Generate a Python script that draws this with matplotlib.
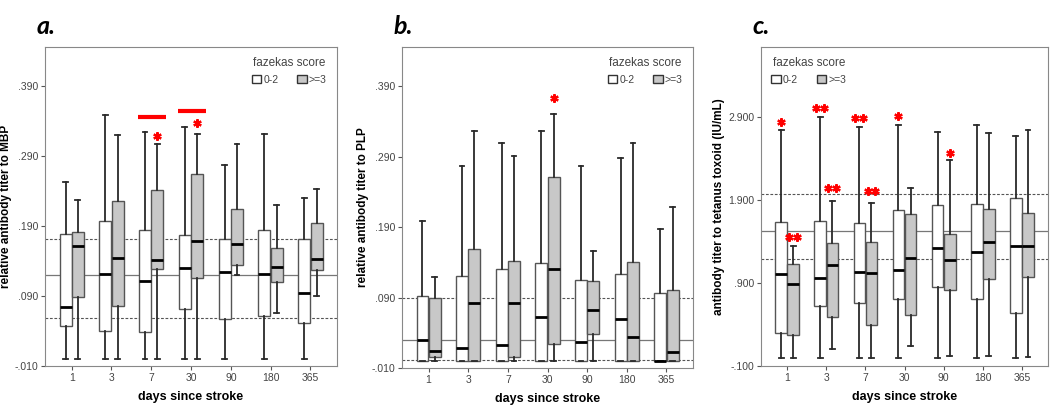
import matplotlib
matplotlib.use("Agg")
import matplotlib.pyplot as plt
import matplotlib.ticker as ticker
from matplotlib.patches import Patch
import numpy as np

# --- Data ---
days = ["1", "3", "7", "30", "90", "180", "365"]

# each list: whisker low, q1, median, q3, whisker high  (one entry per day)
# panel a: MBP
a_low_lo  = [0.0, 0.0, 0.0, 0.0, 0.0, 0.0, 0.0]
a_low_q1  = [0.047, 0.040, 0.039, 0.071, 0.057, 0.061, 0.051]
a_low_med = [0.074, 0.122, 0.112, 0.130, 0.124, 0.121, 0.094]
a_low_q3  = [0.178, 0.197, 0.185, 0.177, 0.171, 0.185, 0.171]
a_low_hi  = [0.253, 0.349, 0.324, 0.332, 0.277, 0.322, 0.230]
a_high_lo  = [0.0, 0.0, 0.0, 0.0, 0.120, 0.066, 0.090]
a_high_q1  = [0.088, 0.076, 0.129, 0.116, 0.134, 0.110, 0.127]
a_high_med = [0.161, 0.144, 0.142, 0.168, 0.164, 0.132, 0.143]
a_high_q3  = [0.181, 0.226, 0.242, 0.264, 0.215, 0.159, 0.194]
a_high_hi  = [0.227, 0.320, 0.308, 0.322, 0.308, 0.220, 0.243]
a_refs = [0.171, 0.120, 0.058]

# panel b: PLP
b_low_lo  = [0.0, 0.0, 0.0, 0.0, 0.0, 0.0, 0.0]
b_low_q1  = [0.0, 0.0, 0.0, 0.0, 0.0, 0.0, 0.0]
b_low_med = [0.030, 0.019, 0.022, 0.062, 0.027, 0.060, 0.0]
b_low_q3  = [0.092, 0.120, 0.131, 0.139, 0.115, 0.123, 0.097]
b_low_hi  = [0.199, 0.277, 0.309, 0.326, 0.277, 0.288, 0.187]
b_high_lo  = [0.0, 0.0, 0.0, 0.0, 0.0, 0.0, 0.0]
b_high_q1  = [0.006, 0.0, 0.006, 0.024, 0.038, 0.0, 0.0]
b_high_med = [0.014, 0.082, 0.082, 0.130, 0.072, 0.034, 0.013]
b_high_q3  = [0.090, 0.159, 0.142, 0.262, 0.113, 0.140, 0.101]
b_high_hi  = [0.119, 0.326, 0.291, 0.351, 0.156, 0.310, 0.218]
b_refs = [0.089, 0.030, 0.001]

# panel c: tetanus toxoid
c_low_lo  = [0.0, 0.0, 0.0, 0.0, 0.0, 0.0, 0.0]
c_low_q1  = [0.300, 0.628, 0.660, 0.712, 0.852, 0.712, 0.540]
c_low_med = [1.004, 0.964, 1.032, 1.056, 1.316, 1.276, 1.340]
c_low_q3  = [1.628, 1.640, 1.616, 1.780, 1.832, 1.844, 1.924]
c_low_hi  = [2.736, 2.900, 2.776, 2.800, 2.720, 2.800, 2.664]
c_high_lo  = [0.0, 0.104, 0.0, 0.140, 0.024, 0.024, 0.012]
c_high_q1  = [0.268, 0.492, 0.392, 0.516, 0.820, 0.952, 0.968]
c_high_med = [0.888, 1.120, 1.016, 1.200, 1.180, 1.388, 1.340]
c_high_q3  = [1.128, 1.376, 1.396, 1.728, 1.484, 1.792, 1.740]
c_high_hi  = [1.344, 1.892, 1.860, 2.048, 2.380, 2.700, 2.736]
c_refs = [1.968, 1.528, 1.192]

# significance marks: (day index, group 0=0-2 / 1=>=3, y, count)
a_stars = [(2, 1, 0.319, 1), (3, 1, 0.338, 1)]
b_stars = [(3, 1, 0.374, 1)]
c_stars = [(0, 0, 2.84, 1), (0, 1, 1.448, 2), (1, 0, 3.01, 2), (1, 1, 2.048, 2),
           (2, 0, 2.88, 2), (2, 1, 2.012, 2), (3, 0, 2.908, 1), (4, 1, 2.468, 1)]
# red bars in panel a: (day index, y)
a_bars = [(2, 0.346), (3, 0.354)]

plt.rcParams.update({"font.family": ["Liberation Sans", "DejaVu Sans"]})

fig = plt.figure(figsize=(10.5, 4.05), dpi=100)

def stats(lo, q1, med, q3, hi):
    return [dict(whislo=lo[i], q1=q1[i], med=med[i], q3=q3[i], whishi=hi[i], fliers=[])
            for i in range(len(lo))]

def fmt(v, pos):
    s = "%.3f" % v
    return s.replace("0.", ".", 1) if abs(v) < 1 else s

def panel(rect, low, high, refs, ylim, ticks, ylabel, letter, stars, legend_loc):
    ax = fig.add_axes(rect)
    x = np.arange(1, len(days) + 1)
    for st, off, fc in [(low, -0.155, "white"), (high, 0.155, "#c8c8c8")]:
        ax.bxp(stats(*st), positions=x + off, widths=0.3, patch_artist=True,
               showfliers=False, manage_ticks=False,
               boxprops=dict(facecolor=fc, edgecolor="#555555", linewidth=1.0),
               medianprops=dict(color="black", linewidth=2.0),
               whiskerprops=dict(color="#2a2a2a", linewidth=1.3),
               capprops=dict(color="#2a2a2a", linewidth=1.3), capwidths=0.12)
    ax.axhline(refs[0], color="#555555", linestyle=(0, (2.5, 1.5)), linewidth=0.8, zorder=0)
    ax.axhline(refs[1], color="#777777", linestyle="-", linewidth=0.9, zorder=0)
    ax.axhline(refs[2], color="#555555", linestyle=(0, (2.5, 1.5)), linewidth=0.8, zorder=0)
    for d, g, y, n in stars:
        xc = d + 1 + (0.155 if g else -0.155)
        xs = [xc] if n == 1 else [xc - 0.1, xc + 0.1]
        ax.plot(xs, [y] * len(xs), linestyle="none", marker=(6, 2, 0),
                markersize=6, markeredgewidth=1.6, color="red", zorder=5)
    ax.set_xlim(0.33, len(days) + 0.67)
    ax.set_ylim(*ylim)
    ax.set_xticks(x)
    ax.set_xticklabels(days)
    ax.set_yticks(ticks)
    ax.yaxis.set_major_formatter(ticker.FuncFormatter(fmt))
    ax.tick_params(direction="out", length=3, width=0.8, colors="#555555",
                   labelsize=7.5, labelcolor="#444444", pad=2)
    for s in ax.spines.values():
        s.set_color("#888888")
    ax.set_xlabel("days since stroke", fontweight="bold", fontsize=9, labelpad=6)
    ax.set_ylabel(ylabel, fontweight="bold", fontsize=8.5, labelpad=2)
    handles = [Patch(facecolor="white", edgecolor="#333333", label="0-2"),
               Patch(facecolor="#c8c8c8", edgecolor="#333333", label=">=3")]
    leg = ax.legend(handles=handles, title="fazekas score", loc=legend_loc, ncol=2,
                    frameon=False, fontsize=7.5, title_fontsize=8.5,
                    handlelength=0.9, handleheight=0.9, handletextpad=0.2,
                    columnspacing=1.8, borderaxespad=0.6)
    leg.get_title().set_color("#444444")
    for t in leg.get_texts():
        t.set_color("#444444")
    fig.text(rect[0] - 0.008, 0.905, letter, fontsize=18, fontweight="bold",
             style="italic", family=["Lato", "DejaVu Sans"], ha="left", va="bottom")
    return ax

ax_a = panel([0.0429, 0.0963, 0.2781, 0.7877],
             (a_low_lo, a_low_q1, a_low_med, a_low_q3, a_low_hi),
             (a_high_lo, a_high_q1, a_high_med, a_high_q3, a_high_hi),
             a_refs, (-0.010, 0.446), [-0.010, 0.090, 0.190, 0.290, 0.390],
             "relative antibody titer to MBP", "a.", a_stars, "upper right")
for d, y in a_bars:
    ax_a.plot([d + 1 - 0.33, d + 1 + 0.37], [y, y], color="red", linewidth=3, solid_capstyle="butt")

panel([0.3829, 0.0914, 0.2771, 0.7926],
      (b_low_lo, b_low_q1, b_low_med, b_low_q3, b_low_hi),
      (b_high_lo, b_high_q1, b_high_med, b_high_q3, b_high_hi),
      b_refs, (-0.010, 0.446), [-0.010, 0.090, 0.190, 0.290, 0.390],
      "relative antibody titer to PLP", "b.", b_stars, "upper right")

panel([0.7248, 0.0963, 0.2733, 0.7877],
      (c_low_lo, c_low_q1, c_low_med, c_low_q3, c_low_hi),
      (c_high_lo, c_high_q1, c_high_med, c_high_q3, c_high_hi),
      c_refs, (-0.100, 3.74), [-0.100, 0.900, 1.900, 2.900],
      "antibody titer to tetanus toxoid (IU/mL)", "c.", c_stars, "upper left")

fig.savefig("out.png", dpi=100)
